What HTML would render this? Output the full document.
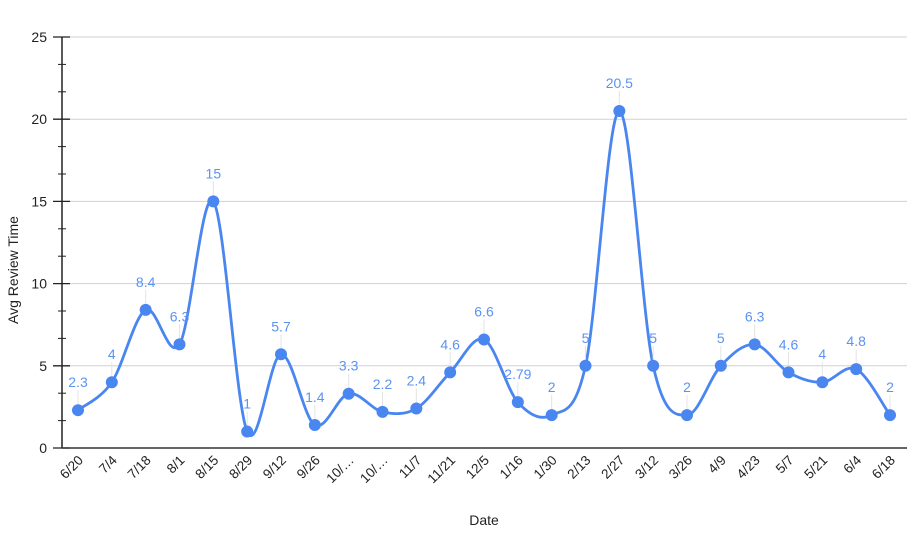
<!DOCTYPE html>
<html><head><meta charset="utf-8"><style>
html,body{margin:0;padding:0;background:#fff}
svg{display:block;font-family:"Liberation Sans",Arial,sans-serif}
</style></head><body>
<svg id="chart" width="914" height="538">
<g id="grid"></g>
<g id="yaxis"></g>
<g id="xaxis"></g>
<path id="line" fill="none" stroke="#4a86f0" stroke-width="2.8"></path>
<g id="marks"></g>
<text x="18" y="270" transform="rotate(-90 18 270)" text-anchor="middle" font-size="14" fill="#222">Avg Review Time</text>
<text x="484" y="525" text-anchor="middle" font-size="14" fill="#222">Date</text>
</svg>
<script>
const categories=["6/20","7/4","7/18","8/1","8/15","8/29","9/12","9/26","10/…","10/…","11/7","11/21","12/5","1/16","1/30","2/13","2/27","3/12","3/26","4/9","4/23","5/7","5/21","6/4","6/18"];
const values=[2.3,4,8.4,6.3,15,1,5.7,1.4,3.3,2.2,2.4,4.6,6.6,2.79,2,5,20.5,5,2,5,6.3,4.6,4,4.8,2];
const valueLabels=["2.3","4","8.4","6.3","15","1","5.7","1.4","3.3","2.2","2.4","4.6","6.6","2.79","2","5","20.5","5","2","5","6.3","4.6","4","4.8","2"];
const yTicks=[0,5,10,15,20,25];
const yMax=25;
const NS="http://www.w3.org/2000/svg";
const X0=78,X1=890,Y0=448,Y1=37,AX=62,RIGHT=907;
const xs=i=>X0+(X1-X0)*i/(categories.length-1);
const ys=v=>Y0-(Y0-Y1)*v/yMax;
function mk(tag,attrs,parent){const e=document.createElementNS(NS,tag);for(const k in attrs)e.setAttribute(k,attrs[k]);parent.appendChild(e);return e;}
const grid=document.getElementById('grid'),yaxis=document.getElementById('yaxis'),xaxis=document.getElementById('xaxis'),marks=document.getElementById('marks');
yTicks.forEach(t=>{
  if(t>0){const g=mk('line',{x1:70,x2:RIGHT,y1:ys(t),y2:ys(t),stroke:'#d0d0d0','stroke-width':1},grid);
  
  }
  const tk=mk('line',{x1:53,x2:70,y1:ys(t),y2:ys(t),stroke:'#222','stroke-width':1.3},yaxis);
  
  
  const lb=mk('text',{x:47,y:ys(t)+5,'text-anchor':'end','font-size':14,fill:'#222'},yaxis);
  lb.textContent=t;
  
  
});
for(let t=0;t<yMax;t+=5){for(let k=1;k<3;k++){const v=t+k*5/3;
  const m=mk('line',{x1:58,x2:66,y1:ys(v),y2:ys(v),stroke:'#222','stroke-width':1},yaxis);
  
  }}
const ya=mk('line',{x1:AX,x2:AX,y1:Y1,y2:Y0,stroke:'#222','stroke-width':1.5},yaxis);


const xa=mk('line',{x1:AX,x2:RIGHT,y1:Y0,y2:Y0,stroke:'#333','stroke-width':1.5},xaxis);


categories.forEach((c,i)=>{
  const x=xs(i)+6,y=461;
  const t=mk('text',{x:x,y:y,'text-anchor':'end','font-size':13.5,fill:'#222',transform:`rotate(-45 ${x} ${y})`},xaxis);
  t.textContent=c;
  
  
});
const pts=values.map((v,i)=>[xs(i),ys(v)]);
let d=`M${pts[0][0]},${pts[0][1]}`;
for(let i=0;i<pts.length-1;i++){
  const p0=pts[i-1]||pts[i],p1=pts[i],p2=pts[i+1],p3=pts[i+2]||pts[i+1];const s=6;
  d+=` C${p1[0]+(p2[0]-p0[0])/s},${p1[1]+(p2[1]-p0[1])/s} ${p2[0]-(p3[0]-p1[0])/s},${p2[1]-(p3[1]-p1[1])/s} ${p2[0]},${p2[1]}`;
}
document.getElementById('line').setAttribute('d',d);
values.forEach((v,i)=>{
  const x=xs(i),y=ys(v);
  const ld=mk('line',{x1:x,x2:x,y1:y-6,y2:y-20,stroke:'#e4e4e4','stroke-width':1},marks);
  
  
  const c=mk('circle',{cx:x,cy:y,r:6,fill:'#4a86f0'},marks);
  
  
  const t=mk('text',{x:x,y:y-23,'text-anchor':'middle','font-size':14,fill:'#5b93f2'},marks);
  t.textContent=valueLabels[i];
  
  
});
</script>
</body></html>
